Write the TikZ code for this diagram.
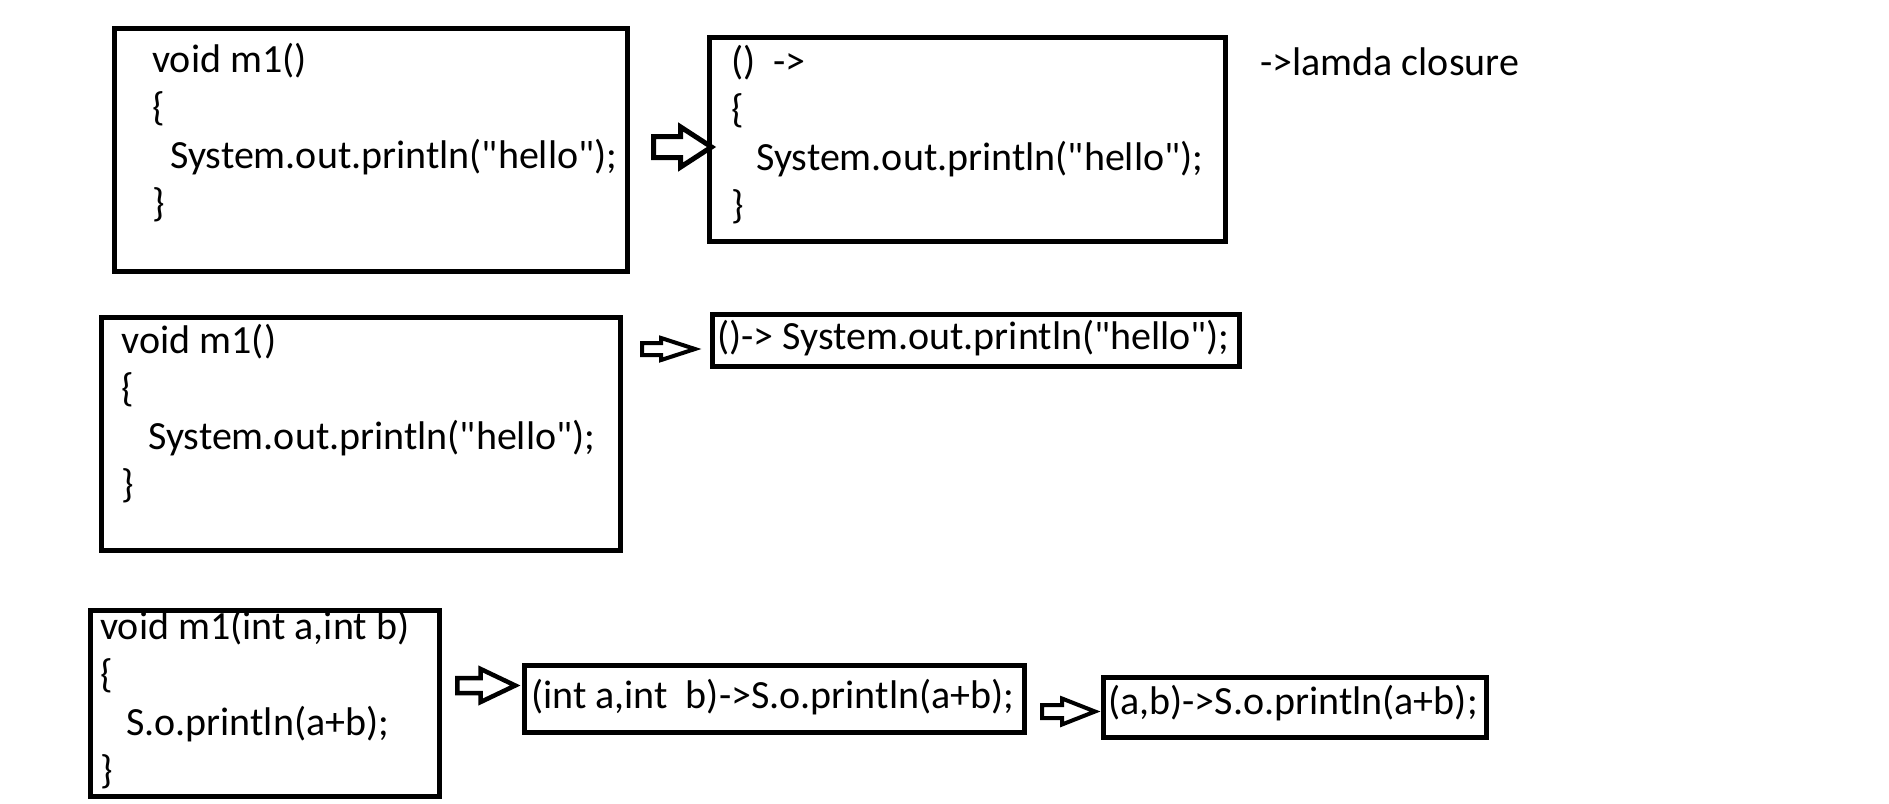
\documentclass[tikz,border=0pt]{standalone}
\usepackage{fontspec}
\setmainfont{Carlito}
\usetikzlibrary{shapes.arrows}
\newcommand{\dq}{\textquotedbl}

\begin{document}
\begin{tikzpicture}[x=1pt,y=-1pt,
  codebox/.style={draw,line width=5pt,anchor=north west,inner sep=0pt},
  code/.style={anchor=west,align=left,inner sep=0pt,font=\fontsize{40}{48}\selectfont},
  fatarrow/.style={single arrow,draw,fill=white,anchor=tail,inner xsep=0pt,line join=miter}]
  \useasboundingbox (0,0) rectangle (1889,803);

  % first row
  \node[codebox,minimum width=513pt,minimum height=243pt] (boxA) at (111.5,26) {};
  \node[code] (codeA) at (152,132.5) {void m1()\\ \{\\ \hspace*{18pt}System.out.println(\dq hello\dq);\\ \}};
  \node[codebox,minimum width=516pt,minimum height=204pt] (boxB) at (707,35) {};
  \node[code] (codeB) at (731,135) {()\ \ ->\\ \{\\ \hspace*{25pt}System.out.println(\dq hello\dq);\\ \}};
  \node[code] (closure) at (1260,62) {->lamda closure};
  \node[fatarrow,line width=5pt,inner ysep=8pt,single arrow head extend=9.5pt,
        single arrow tip angle=66,minimum height=58pt] (arrA) at (651,147) {};

  % second row
  \node[codebox,minimum width=519pt,minimum height=233pt] (boxC) at (99,315) {};
  \node[code] (codeC) at (121.5,414) {void m1()\\ \{\\ \hspace*{26.5pt}System.out.println(\dq hello\dq);\\ \}};
  \node[codebox,minimum width=527pt,minimum height=52pt] (boxD) at (710,312) {};
  \node[code] (codeD) at (717,338) {()-> System.out.println(\dq hello\dq);};
  \node[fatarrow,line width=4pt,inner ysep=4pt,single arrow head extend=5pt,
        single arrow tip angle=36,minimum height=53pt] (arrC) at (640,349) {};

  % third row
  \node[codebox,minimum width=349pt,minimum height=186pt] (boxE) at (88,608) {};
  \node[code] (codeE) at (100,700) {void m1(int a,int b)\\ \{\\ \hspace*{26pt}S.o.println(a+b);\\ \}};
  \node[codebox,minimum width=500pt,minimum height=67pt] (boxF) at (522,663) {};
  \node[code] (codeF) at (531,697) {(int a,int\ \ b)->S.o.println(a+b);};
  \node[codebox,minimum width=383pt,minimum height=60pt] (boxG) at (1101,675) {};
  \node[code] (codeG) at (1108,703) {(a,b)->S.o.println(a+b);};
  \node[fatarrow,line width=4.5pt,inner ysep=5.25pt,single arrow head extend=9pt,
        single arrow tip angle=51,minimum height=58pt] (arrE) at (455,685.5) {};
  \node[fatarrow,line width=4pt,inner ysep=4.5pt,single arrow head extend=6.5pt,
        single arrow tip angle=43,minimum height=53pt] (arrF) at (1040,711.5) {};
\end{tikzpicture}
\end{document}
